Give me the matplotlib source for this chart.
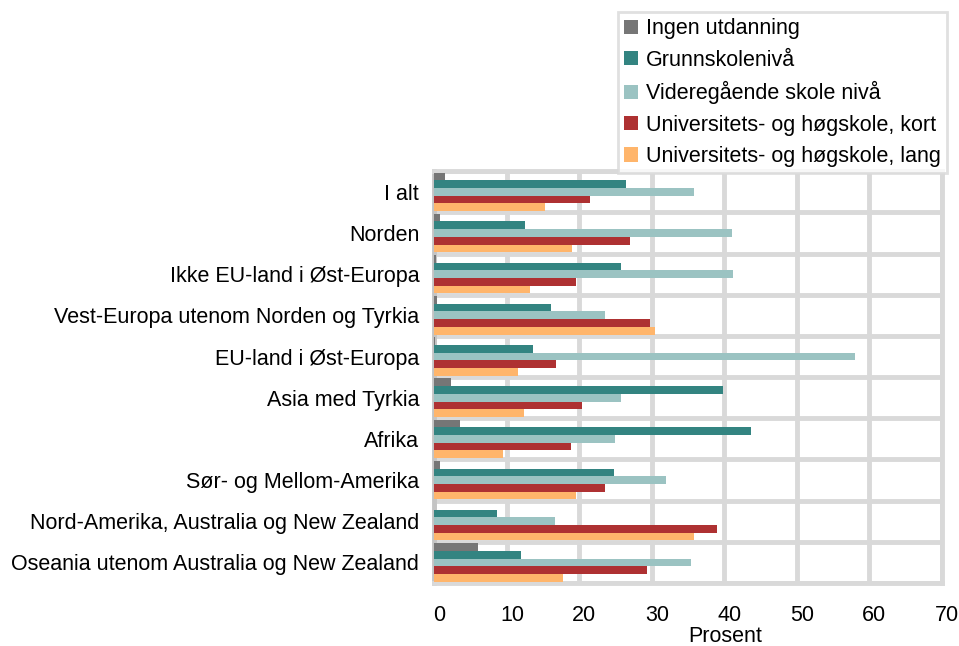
import numpy as np
import matplotlib
matplotlib.use("Agg")
import matplotlib.pyplot as plt
import matplotlib.transforms as mtransforms

plt.rcParams['font.family'] = ['Liberation Sans', 'DejaVu Sans']

categories = ["I alt", "Norden", "Ikke EU-land i Øst-Europa",
              "Vest-Europa utenom Norden og Tyrkia", "EU-land i Øst-Europa",
              "Asia med Tyrkia", "Afrika", "Sør- og Mellom-Amerika",
              "Nord-Amerika, Australia og New Zealand",
              "Oseania utenom Australia og New Zealand"]

series = ["Ingen utdanning", "Grunnskolenivå", "Videregående skole nivå",
          "Universitets- og høgskole, kort", "Universitets- og høgskole, lang"]

ingen = [1.5, 0.8, 0.2, 0.3, 0.1, 2.3, 3.5, 0.7, 0.0, 6.0]
grunn = [26.5, 12.5, 25.8, 16.1, 13.6, 39.8, 43.7, 24.8, 8.6, 11.9]
vgs = [35.8, 41.1, 41.2, 23.5, 58.0, 25.8, 24.9, 31.9, 16.7, 35.4]
kort = [21.5, 27.0, 19.6, 29.7, 16.8, 20.3, 18.9, 23.6, 39.0, 29.4]
lang = [15.3, 19.0, 13.2, 30.4, 11.5, 12.3, 9.4, 19.5, 35.8, 17.7]

colors = ["#767676", "#338481", "#9bc3c2", "#ae3132", "#ffb56b"]

fs = 15.5

fig = plt.figure(figsize=(9.59, 6.46), dpi=100)
ax = fig.add_axes([0.453, 0.0975, 0.529, 0.6375])

y = np.arange(len(categories))
h = 0.187
for i, (vals, lab, c) in enumerate(zip([ingen, grunn, vgs, kort, lang], series, colors)):
    ax.barh(y + (i - 2) * h, vals, height=h, color=c, label=lab, zorder=3)

ax.set_xlim(0, 70)
ax.set_ylim(len(categories) - 0.5, -0.5)
ax.set_xticks(np.arange(0, 71, 10))
ax.set_yticks(y)
ax.set_yticklabels(categories, fontsize=fs)
ax.set_yticks(np.arange(-0.5, len(categories), 1), minor=True)
ax.tick_params(axis='y', which='both', length=0, pad=11)
ax.tick_params(axis='x', length=0, pad=16, labelsize=fs)
for lbl in ax.get_xticklabels():
    lbl.set_transform(lbl.get_transform() + mtransforms.ScaledTranslation(5 / 100, 0, fig.dpi_scale_trans))

ax.grid(axis='x', which='major', color='#d9d9d9', linewidth=3.5, zorder=0)
ax.grid(axis='y', which='minor', color='#d9d9d9', linewidth=3.5, zorder=0)
ax.grid(axis='y', which='major', visible=False)
for s in ax.spines.values():
    s.set_color('#d9d9d9')
    s.set_linewidth(3.5)
ax.spines['left'].set_color('#c4c4c4')

ax.set_xlabel("Prosent", fontsize=fs, labelpad=0)
ax.xaxis.set_label_coords(0.574, -0.105)

leg = fig.legend(loc='upper left', bbox_to_anchor=(618 / 959, 1 - 12 / 646),
                 fontsize=fs, frameon=True, fancybox=False, edgecolor='#d9d9d9',
                 handlelength=0.65, handleheight=0.65, handletextpad=0.35,
                 labelspacing=0.48, borderpad=0.3, borderaxespad=0)
leg.get_frame().set_linewidth(2)
leg.set_zorder(10)

fig.savefig("out.png", dpi=100)
